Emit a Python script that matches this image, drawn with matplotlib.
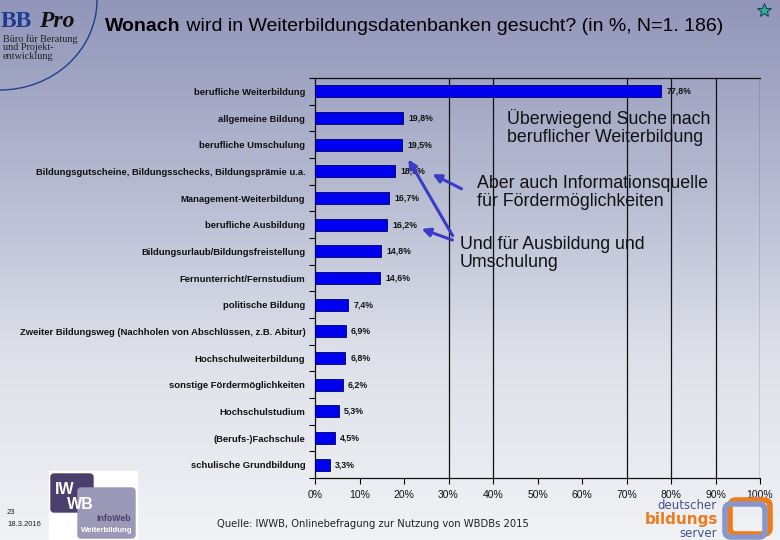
import matplotlib
matplotlib.use("Agg")
import matplotlib.pyplot as plt
import numpy as np
from matplotlib.colors import LinearSegmentedColormap
from matplotlib.patches import Arc, FancyBboxPatch, Rectangle

plt.rcParams["font.family"] = ["Liberation Sans", "DejaVu Sans"]

categories = [
    "berufliche Weiterbildung",
    "allgemeine Bildung",
    "berufliche Umschulung",
    "Bildungsgutscheine, Bildungsschecks, Bildungsprämie u.a.",
    "Management-Weiterbildung",
    "berufliche Ausbildung",
    "Bildungsurlaub/Bildungsfreistellung",
    "Fernunterricht/Fernstudium",
    "politische Bildung",
    "Zweiter Bildungsweg (Nachholen von Abschlüssen, z.B. Abitur)",
    "Hochschulweiterbildung",
    "sonstige Fördermöglichkeiten",
    "Hochschulstudium",
    "(Berufs-)Fachschule",
    "schulische Grundbildung",
]
values = [77.8, 19.8, 19.5, 18.0, 16.7, 16.2, 14.8, 14.6, 7.4, 6.9, 6.8, 6.2, 5.3, 4.5, 3.3]
x_ticks = [0, 10, 20, 30, 40, 50, 60, 70, 80, 90, 100]
grid_at = [30, 40, 70, 80, 90, 100]

W, H = 780, 540
fig = plt.figure(figsize=(W / 100, H / 100), dpi=100)


def frac(x0, y0, x1, y1):
    # pixel box (top-left origin) -> figure fraction rect
    return [x0 / W, 1 - y1 / H, (x1 - x0) / W, (y1 - y0) / H]


# background gradient
bg = fig.add_axes([0, 0, 1, 1], zorder=0)
cmap = LinearSegmentedColormap.from_list("bg", ["#9195b9", "#b5b9d0", "#dfe1ea", "#f1f2f5"])
bg.imshow(np.linspace(0, 1, 256).reshape(-1, 1), aspect="auto", cmap=cmap, extent=[0, 1, 0, 1])
bg.set_axis_off()

# bar chart
ax = fig.add_axes(frac(315, 78, 760, 478), zorder=1)
ax.patch.set_alpha(0)
y = np.arange(len(categories))
ax.barh(y, values, height=0.46, color="#0000f0", edgecolor="#000060", linewidth=0.6, zorder=3)
for gx in grid_at:
    ax.axvline(gx, color="#111111", linewidth=0.9, zorder=1)
for yi, v in zip(y, values):
    ax.text(v + 1.2, yi, f"{v:.1f}%".replace(".", ","), va="center", ha="left",
            fontsize=6.3, fontweight="bold", color="#111111")
ax.set_xlim(0, 100)
ax.set_ylim(len(categories) - 0.5, -0.5)
ax.set_xticks(x_ticks)
ax.set_xticklabels([f"{t}%" for t in x_ticks], fontsize=7.5, color="#111111")
ax.tick_params(axis="x", direction="out", length=4, width=0.8, pad=5)
ax.set_yticks(y)
ax.set_yticklabels(categories, fontsize=6.8, fontweight="bold", color="#111111")
ax.tick_params(axis="y", which="major", length=0, pad=7)
ax.set_yticks(np.arange(-0.5, len(categories), 1), minor=True)
ax.tick_params(axis="y", which="minor", direction="out", length=4, width=0.8)
for side in ["left", "bottom", "top"]:
    ax.spines[side].set_color("#111111")
    ax.spines[side].set_linewidth(0.9)
ax.spines["right"].set_visible(False)

# overlay for texts, arrows and logos (pixel coordinates)
ov = fig.add_axes([0, 0, 1, 1], zorder=2)
ov.set_xlim(0, W)
ov.set_ylim(H, 0)
ov.set_axis_off()

t1 = ov.text(105, 31, "Wonach", fontsize=14, fontweight="bold", color="#000000")
ov.annotate(" wird in Weiterbildungsdatenbanken gesucht? (in %, N=1. 186)", xy=(1, 0),
            xycoords=t1, va="bottom", fontsize=14, color="#000000")

note_kw = dict(fontsize=12.8, color="#111111", linespacing=1.05, va="top")
ov.text(507, 109, "Überwiegend Suche nach\nberuflicher Weiterbildung", **note_kw)
ov.text(477, 175, "Aber auch Informationsquelle\nfür Fördermöglichkeiten", **note_kw)
ov.text(460, 236, "Und für Ausbildung und\nUmschulung", **note_kw)

arrow_kw = dict(arrowstyle="-|>,head_length=0.5,head_width=0.25", color="#3b3bc8", lw=2.2)
ov.annotate("", xy=(430, 173), xytext=(464, 190), arrowprops=arrow_kw)
ov.annotate("", xy=(407, 157), xytext=(454, 238), arrowprops=arrow_kw)
ov.annotate("", xy=(419, 228), xytext=(455, 241), arrowprops=arrow_kw)

# BBPro logo
ov.add_patch(Arc((0, 0), 194, 180, theta1=0, theta2=90, color="#1f3f8f", lw=1.0))
ov.text(1, 27, "BB", fontsize=17, fontweight="bold", family="Liberation Serif", color="#1e3c94")
ov.text(39, 27, "Pro", fontsize=17, fontweight="bold", style="italic",
        family="Liberation Serif", color="#111111")
ov.text(3, 59, "Büro für Beratung\nund Projekt-\nentwicklung", fontsize=7.3,
        family="Liberation Serif", color="#222222", linespacing=0.95)

# star
ov.plot([764], [10], marker="*", markersize=10, color="#2db38a", markeredgecolor="#1a3a5a",
        markeredgewidth=0.7)

# page number and date
ov.text(7, 512, "23", fontsize=5.5, color="#222222", va="center")
ov.text(7, 525, "18.3.2016", fontsize=5.5, color="#222222", va="center")

# IWWB logo
ov.add_patch(Rectangle((49, 471), 88, 69, color="white"))
ov.add_patch(FancyBboxPatch((51, 474), 42, 38, boxstyle="round,pad=0,rounding_size=3",
                            color="#4a3f6c"))
ov.add_patch(FancyBboxPatch((78, 488), 57, 50, boxstyle="round,pad=0,rounding_size=3",
                            color="#9b99b8"))
ov.text(55, 494, "IW", fontsize=11.5, fontweight="bold", color="white")
ov.text(67, 509, "WB", fontsize=11.5, fontweight="bold", color="white")
ov.text(131, 521, "InfoWeb", fontsize=6.3, fontweight="bold", color="#4a3f6c", ha="right")
ov.text(132, 532, "Weiterbildung", fontsize=5.6, fontweight="bold", color="white", ha="right")

# source
ov.text(217, 527, "Quelle: IWWB, Onlinebefragung zur Nutzung von WBDBs 2015", fontsize=7.2,
        family="DejaVu Sans", color="#222222")

# deutscher bildungs server logo
ov.text(717, 509, "deutscher", fontsize=8.5, color="#43538a", ha="right", family="DejaVu Sans")
ov.text(718, 524, "bildungs", fontsize=11, fontweight="bold", color="#f07b1c", ha="right",
        family="DejaVu Sans")
ov.text(717, 537, "server", fontsize=8.5, color="#43538a", ha="right", family="DejaVu Sans")
ov.add_patch(FancyBboxPatch((730, 500), 40, 34, boxstyle="round,pad=0,rounding_size=6",
                            fill=False, edgecolor="#f07b1c", lw=4))
ov.add_patch(FancyBboxPatch((725, 504), 40, 33, boxstyle="round,pad=0,rounding_size=6",
                            fill=False, edgecolor="#8797c8", lw=4))

fig.savefig("out.png", dpi=100)
